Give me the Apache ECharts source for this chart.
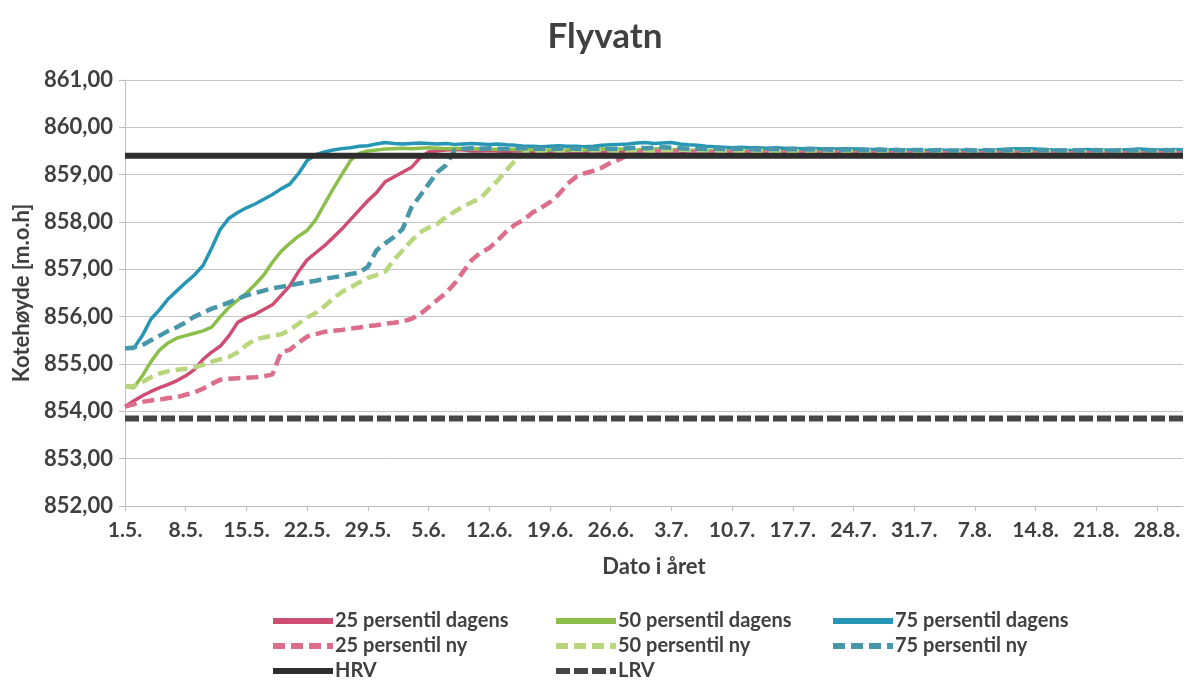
<!DOCTYPE html>
<html>
<head>
<meta charset="utf-8">
<script src="https://cdn.jsdelivr.net/npm/echarts@6/dist/echarts.min.js"></script>
<style>
html,body{margin:0;padding:0;background:#fff;}
#chart{width:1186px;height:683px;}
</style>
</head>
<body>
<div id="chart"></div>
<script>
// Category labels: daily dates 1.5. – 31.8.
const monthDays = [[5, 31], [6, 30], [7, 31], [8, 31]];
const categories = [];
monthDays.forEach(([m, n]) => { for (let d = 1; d <= n; d++) categories.push(d + '.' + m + '.'); });

const yTicks = [852, 853, 854, 855, 856, 857, 858, 859, 860, 861];

const seriesNames = ['25 persentil dagens', '50 persentil dagens', '75 persentil dagens',
  '25 persentil ny', '50 persentil ny', '75 persentil ny', 'HRV', 'LRV'];

const p25Dagens = [854.1, 854.22, 854.33, 854.42, 854.5, 854.57, 854.65, 854.75, 854.88, 855.1,
  855.25, 855.38, 855.6, 855.88, 855.98, 856.05, 856.15, 856.25, 856.45, 856.65,
  856.95, 857.2, 857.35, 857.5, 857.67, 857.85, 858.05, 858.25, 858.45, 858.62,
  858.85, 858.95, 859.05, 859.15, 859.35, 859.48, 859.5,
  859.52, 859.53, 859.52, 859.5, 859.5, 859.51, 859.5, 859.49, 859.5, 859.5, 859.49, 859.48, 859.49, 859.5,
  859.5, 859.49, 859.48, 859.48, 859.47, 859.47, 859.48, 859.47, 859.46, 859.47, 859.48, 859.47, 859.46, 859.47, 859.47, 859.46, 859.47, 859.46, 859.46, 859.47,
  859.46, 859.47, 859.46, 859.46, 859.45, 859.46, 859.46, 859.45, 859.46, 859.46,
  859.45, 859.46, 859.45, 859.45, 859.46, 859.45, 859.45, 859.46, 859.45, 859.45,
  859.46, 859.45, 859.45, 859.44, 859.45, 859.45, 859.46, 859.45, 859.45, 859.44,
  859.45, 859.45, 859.46, 859.45, 859.45, 859.46, 859.45, 859.45, 859.44, 859.45,
  859.45, 859.46, 859.45, 859.45, 859.44, 859.45, 859.45, 859.46, 859.45, 859.45,
  859.45, 859.45];

const p50Dagens = [854.53, 854.5, 854.75, 855.05, 855.3, 855.45, 855.55, 855.6, 855.65, 855.7,
  855.78, 856.0, 856.2, 856.35, 856.5, 856.68, 856.88, 857.15, 857.38, 857.55,
  857.7, 857.82, 858.05, 858.38, 858.7, 859.0, 859.3, 859.45, 859.5,
  859.52, 859.54, 859.55, 859.56, 859.55, 859.56, 859.57, 859.56, 859.55, 859.56, 859.55, 859.54, 859.55, 859.54, 859.53, 859.54, 859.53, 859.52, 859.53, 859.52,
  859.52, 859.53, 859.52, 859.51, 859.52, 859.53, 859.54, 859.55, 859.54, 859.53, 859.52, 859.53, 859.54, 859.55, 859.53, 859.52, 859.51, 859.52, 859.51, 859.5,
  859.5, 859.51, 859.5, 859.5, 859.49, 859.5, 859.5, 859.51, 859.5, 859.49,
  859.5, 859.5, 859.49, 859.49, 859.5, 859.49, 859.49, 859.5, 859.49, 859.48,
  859.49, 859.49, 859.5, 859.49, 859.48, 859.49, 859.49, 859.48, 859.49, 859.49,
  859.48, 859.49, 859.5, 859.49, 859.48, 859.49, 859.49, 859.48, 859.48, 859.49,
  859.49, 859.5, 859.49, 859.48, 859.49, 859.49, 859.48, 859.49, 859.49, 859.48,
  859.49, 859.49, 859.48, 859.48];

const p75Dagens = [855.33, 855.33, 855.6, 855.95, 856.15, 856.38, 856.55, 856.72, 856.88, 857.08,
  857.45, 857.85, 858.08, 858.2, 858.3, 858.38, 858.48, 858.58, 858.7, 858.8,
  859.02, 859.3, 859.42, 859.48, 859.52, 859.55, 859.57, 859.6, 859.61, 859.65,
  859.68, 859.66, 859.65, 859.66, 859.67, 859.66,
  859.65, 859.66, 859.64, 859.65, 859.66, 859.65, 859.64, 859.65, 859.63, 859.62,
  859.6, 859.6, 859.59, 859.6, 859.61, 859.6, 859.6, 859.59, 859.6, 859.62, 859.63, 859.64, 859.65, 859.67,
  859.68, 859.66, 859.67, 859.68, 859.65, 859.63, 859.62, 859.6, 859.59,
  859.58, 859.57, 859.58, 859.57, 859.57, 859.56, 859.57, 859.56, 859.56, 859.55, 859.56, 859.55, 859.55, 859.54, 859.55, 859.54, 859.54,
  859.53, 859.53, 859.52, 859.53, 859.52, 859.52, 859.51, 859.52, 859.52, 859.51,
  859.51, 859.52, 859.51, 859.51, 859.52, 859.53, 859.54, 859.55, 859.55, 859.54,
  859.53, 859.52, 859.52, 859.51, 859.52, 859.53, 859.52, 859.52, 859.51, 859.52,
  859.53, 859.54, 859.53, 859.52, 859.52, 859.53, 859.52];

const p25Ny = [854.1, 854.15, 854.2, 854.23, 854.25, 854.28, 854.3, 854.35, 854.4, 854.48,
  854.58, 854.67, 854.69, 854.7, 854.71, 854.72, 854.74, 854.78, 855.25, 855.3,
  855.45, 855.58, 855.63, 855.68, 855.7, 855.72, 855.75, 855.77, 855.8, 855.82,
  855.85, 855.87, 855.9, 855.95, 856.05, 856.2, 856.35, 856.5, 856.7, 856.95,
  857.2, 857.35, 857.45, 857.62, 857.8, 857.95, 858.05, 858.2, 858.3, 858.42,
  858.58, 858.8, 858.95, 859.03, 859.08, 859.15, 859.25, 859.32, 859.42, 859.47,
  859.5,
  859.5, 859.49, 859.5, 859.49, 859.48, 859.49, 859.48, 859.47, 859.48, 859.48,
  859.47, 859.48, 859.47, 859.47, 859.46, 859.47, 859.47, 859.46, 859.47, 859.46,
  859.46, 859.47, 859.46, 859.46, 859.45, 859.46, 859.46, 859.45, 859.46, 859.46,
  859.45, 859.46, 859.45, 859.45, 859.46, 859.45, 859.45, 859.46, 859.45, 859.45,
  859.46, 859.45, 859.45, 859.46, 859.45, 859.45, 859.44, 859.45, 859.45, 859.46,
  859.45, 859.45, 859.44, 859.45, 859.45, 859.46, 859.45, 859.44, 859.45, 859.45,
  859.45, 859.45];

const p50Ny = [854.53, 854.53, 854.62, 854.72, 854.8, 854.85, 854.88, 854.9, 854.93, 854.98,
  855.05, 855.1, 855.15, 855.25, 855.4, 855.52, 855.56, 855.6, 855.63, 855.72,
  855.85, 855.98, 856.08, 856.22, 856.38, 856.52, 856.62, 856.72, 856.82, 856.88,
  856.95, 857.2, 857.4, 857.6, 857.78, 857.88, 857.96, 858.1, 858.22, 858.32,
  858.42, 858.5, 858.7, 858.88, 859.1, 859.3, 859.45, 859.5,
  859.5, 859.52, 859.51, 859.52, 859.53, 859.52, 859.51, 859.52, 859.51, 859.5,
  859.51, 859.52, 859.51, 859.5, 859.51, 859.52, 859.53, 859.52, 859.51, 859.52,
  859.51, 859.5, 859.51, 859.5, 859.5, 859.51, 859.5, 859.49, 859.5, 859.5,
  859.49, 859.5, 859.5, 859.49, 859.49, 859.5, 859.49, 859.49, 859.5, 859.49,
  859.49, 859.48, 859.49, 859.49, 859.5, 859.49, 859.48, 859.49, 859.49, 859.48,
  859.49, 859.49, 859.5, 859.51, 859.5, 859.49, 859.49, 859.48, 859.49, 859.49,
  859.48, 859.49, 859.49, 859.48, 859.49, 859.5, 859.49, 859.49, 859.48, 859.49,
  859.49, 859.48, 859.49, 859.49, 859.48];

const p75Ny = [855.33, 855.35, 855.4, 855.5, 855.6, 855.7, 855.78, 855.88, 856.0, 856.08,
  856.17, 856.23, 856.3, 856.38, 856.45, 856.5, 856.55, 856.6, 856.63, 856.66,
  856.7, 856.73, 856.76, 856.8, 856.83, 856.86, 856.9, 856.93, 857.05, 857.4,
  857.55, 857.68, 857.85, 858.3, 858.55, 858.8, 859.05, 859.2,
  859.52, 859.55, 859.56, 859.55, 859.56, 859.55, 859.54, 859.55, 859.56, 859.55,
  859.55, 859.54, 859.55, 859.56, 859.55, 859.54, 859.55, 859.55, 859.54, 859.55,
  859.56, 859.57, 859.56, 859.57, 859.58, 859.57, 859.56, 859.55, 859.55, 859.54,
  859.55, 859.54, 859.54, 859.55, 859.54, 859.53, 859.54, 859.54, 859.53, 859.54,
  859.53, 859.53, 859.54, 859.53, 859.52, 859.53, 859.53, 859.52, 859.52, 859.53,
  859.52, 859.52, 859.51, 859.52, 859.52, 859.51, 859.52, 859.51, 859.51, 859.52,
  859.51, 859.52, 859.51, 859.51, 859.52, 859.53, 859.52, 859.51, 859.52, 859.51,
  859.51, 859.52, 859.51, 859.51, 859.52, 859.51, 859.51, 859.52, 859.51, 859.52,
  859.51, 859.51, 859.52, 859.51, 859.51];

const hrvLevel = 859.4;
const lrvLevel = 853.85;

const colors = ['#cf4d72', '#8cbe4b', '#2596b4', '#dc6e8c', '#b8d67c', '#4796aa', '#2e2e2e', '#454545'];
const textColor = '#404040';
const fontFam = 'Lato, "Open Sans", sans-serif';

const chart = echarts.init(document.getElementById('chart'), null, {renderer: 'canvas'});

function lineSeries(name, data, color, dashed, width) {
  return {
    name: name, type: 'line', data: data, symbol: 'none', smooth: false,
    lineStyle: {color: color, width: width, type: dashed ? [12, 6] : 'solid', cap: 'butt'},
    itemStyle: {color: color},
    emphasis: {disabled: true}, animation: false
  };
}

const lastCat = categories[categories.length - 1];

const series = [
  lineSeries(seriesNames[0], p25Dagens, colors[0], false, 3.5),
  lineSeries(seriesNames[1], p50Dagens, colors[1], false, 3.5),
  lineSeries(seriesNames[2], p75Dagens, colors[2], false, 3.5),
  lineSeries(seriesNames[3], p25Ny, colors[3], true, 4.5),
  lineSeries(seriesNames[4], p50Ny, colors[4], true, 4.5),
  lineSeries(seriesNames[5], p75Ny, colors[5], true, 4.5),
  lineSeries(seriesNames[6], [[categories[0], hrvLevel], [lastCat, hrvLevel]], colors[6], false, 6),
  lineSeries(seriesNames[7], [[categories[0], lrvLevel], [lastCat, lrvLevel]], colors[7], false, 6)
];
series[7].lineStyle.type = [14, 4];

const legendBase = {
  orient: 'vertical', top: 611, itemWidth: 60, itemHeight: 12, itemGap: 5, padding: 0,
  textStyle: {fontFamily: fontFam, fontSize: 20, lineHeight: 20, fontWeight: 'bold', color: textColor, padding: [0, 0, 0, -3]},
  lineStyle: {width: 6}, itemStyle: {opacity: 0}, selectedMode: false
};

const option = {
  backgroundColor: '#ffffff',
  animation: false,
  title: {
    text: 'Flyvatn', left: 600, top: 14, textAlign: 'center',
    textStyle: {fontFamily: fontFam, fontSize: 35, fontWeight: 'bold', color: textColor}
  },
  legend: [
    Object.assign({}, legendBase, {left: 270, data: [seriesNames[0], seriesNames[3], seriesNames[6]]}),
    Object.assign({}, legendBase, {left: 553, data: [seriesNames[1], seriesNames[4], seriesNames[7]]}),
    Object.assign({}, legendBase, {left: 830, data: [seriesNames[2], seriesNames[5]]})
  ],
  grid: {left: 125, right: 3, top: 80, bottom: 177, containLabel: false},
  xAxis: {
    type: 'category', data: categories, boundaryGap: false,
    name: 'Dato i året', nameLocation: 'middle', nameGap: 50,
    nameTextStyle: {fontFamily: fontFam, fontSize: 22, fontWeight: 'bold', color: textColor},
    axisLine: {lineStyle: {color: '#bdbdbd', width: 1}},
    axisTick: {show: true, interval: 6, length: 5, lineStyle: {color: '#bdbdbd'}},
    axisLabel: {interval: 6, margin: 14, fontFamily: fontFam, fontSize: 21, fontWeight: 'bold', color: textColor},
    splitLine: {show: false}
  },
  yAxis: {
    type: 'value', min: 852, max: 861, interval: 1,
    name: 'Kotehøyde [m.o.h]', nameLocation: 'middle', nameGap: 92, nameRotate: 90,
    nameTextStyle: {fontFamily: fontFam, fontSize: 22, fontWeight: 'bold', color: textColor},
    axisLine: {show: true, lineStyle: {color: '#bdbdbd', width: 1}},
    axisTick: {show: true, length: 6, lineStyle: {color: '#bdbdbd'}},
    axisLabel: {margin: 12, fontFamily: fontFam, fontSize: 22, fontWeight: 'bold', color: textColor,
      formatter: v => yTicks.includes(v) ? v.toFixed(2).replace('.', ',') : ''},
    splitLine: {show: true, lineStyle: {color: '#c4c4c4', width: 1}}
  },
  series: series
};

chart.setOption(option);
</script>
</body>
</html>
